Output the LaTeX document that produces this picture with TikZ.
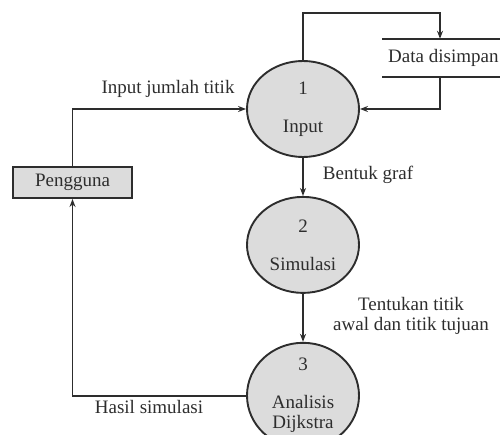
\documentclass[tikz,border=0pt]{standalone}
\usepackage{fontspec}
\setmainfont{Liberation Serif}
\usepackage{tikz}
\usetikzlibrary{arrows.meta, positioning, shapes.geometric}

\definecolor{ink}{RGB}{45,45,45}
\definecolor{procfill}{RGB}{220,220,220}

\begin{document}
\begin{tikzpicture}[x=1pt, y=-1pt, node distance=40pt,
    every node/.style={font=\fontsize{19}{20}\selectfont, text=ink},
    >={Stealth[length=8pt, width=6pt]},
    flow/.style={draw=ink, line width=1.9pt},
    process/.style={ellipse, draw=ink, line width=1.9pt, fill=procfill, minimum width=112pt, minimum height=96pt, inner sep=0pt, align=center},
    extent/.style={rectangle, draw=ink, line width=2pt, fill=procfill, minimum width=119pt, minimum height=31pt},
    datastore/.style={rectangle, minimum height=38pt, inner xsep=6pt, anchor=west},
    lbl/.style={align=center}]

    \useasboundingbox (0,0) rectangle (500,435);

    \node[process] (p1) at (303,109) {1\\[18pt]Input};
    \node[process, below=38pt of p1] (p2) {2\\[18pt]Simulasi};
    \node[process, below=48pt of p2] (p3) {3\\[18pt]Analisis\\Dijkstra};
    \node[extent] (user) at (72.5,182.5) {Pengguna};
    \node[datastore] (store) at (382,58) {Data disimpan};

    \draw[flow] (store.north west) -- (store.north east);
    \draw[flow] (store.south west) -- (store.south east);

    \draw[flow, ->] (user.north) |- (p1.west);
    \draw[flow, ->] (p1.south) -- (p2.north);
    \draw[flow, ->] (p2.south) -- (p3.north);
    \draw[flow, ->] (p3.west) -| (user.south);
    \draw[flow, ->] (p1.north) |- ([xshift=58pt, yshift=26pt]store.north west) -- ([xshift=58pt]store.north west);
    \draw[flow, ->] ([xshift=58pt]store.south west) |- (p1.east);

    \node[lbl] (l_input) at (168,89) {Input jumlah titik};
    \node[lbl] (l_graf) at (368,175) {Bentuk graf};
    \node[lbl] (l_titik) at (411,316) {Tentukan titik\\awal dan titik tujuan};
    \node[lbl] (l_hasil) at (149,407) {Hasil simulasi};
\end{tikzpicture}
\end{document}
